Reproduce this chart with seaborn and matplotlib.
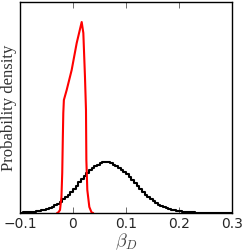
import numpy as np
import pandas as pd
import matplotlib
matplotlib.use("Agg")
import matplotlib.pyplot as plt
import seaborn as sns

# black histogram: bin edges and heights (arbitrary density units)
bin_edges = np.arange(-0.1, 0.3001, 0.005)
black_heights = [
    0.35, 0.45, 0.65, 0.85, 1.1, 1.4, 1.75, 2.1, 2.6, 3.2,
    4.0, 4.9, 6.1, 7.6, 9.4, 11.4, 13.6, 15.9, 18.3, 20.8,
    23.6, 27.0, 30.6, 34.0, 37.3, 40.4, 43.0, 45.1, 46.8, 48.3,
    49.6, 50.6, 51.2, 51.1, 50.0, 48.4, 46.6, 44.8, 43.0, 41.0,
    38.6, 35.9, 33.0, 30.0, 27.0, 24.0, 21.1, 18.4, 15.9, 13.6,
    11.6, 9.9, 8.4, 7.1, 6.0, 5.0, 4.2, 3.4, 2.8, 2.2,
    1.8, 1.4, 1.1, 0.85, 0.65, 0.5, 0.38, 0.28, 0.2, 0.15,
    0.11, 0.08, 0.05, 0.04, 0.03, 0.02, 0.01, 0.01, 0.0, 0.0,
]
bin_centres = (bin_edges[:-1] + bin_edges[1:]) / 2

# red curve
red_x = [-0.030, -0.0277, -0.0245, -0.0218, -0.0203, -0.0192, -0.0183, -0.0172,
         -0.0119, -0.0025, 0.007, 0.0164, 0.0195, 0.0226, 0.0245, 0.0252,
         0.027, 0.0308, 0.035, 0.038]
red_y = [0, 0.5, 3, 16, 40, 75, 100, 113,
         123, 143, 170, 191, 180, 136, 103, 53,
         23, 6, 0.5, 0]

hist_df = pd.DataFrame({"beta": bin_centres, "h": black_heights})
red_df = pd.DataFrame({"beta": red_x, "dens": red_y})

sns.set_style("ticks")
plt.rcParams["mathtext.fontset"] = "cm"

fig = plt.figure(figsize=(2.45, 2.52), dpi=100)
ax = fig.add_axes([0.0816, 0.155, 0.8654, 0.837])

sns.histplot(data=hist_df, x="beta", weights="h", bins=list(bin_edges),
             element="step", fill=False, color="black", linewidth=1.5, ax=ax)
sns.lineplot(data=red_df, x="beta", y="dens", color="red", linewidth=1.5,
             estimator=None, sort=False, ax=ax)

ax.set_xlim(-0.1, 0.3)
ax.set_ylim(0, 211)
ax.set_xticks([-0.1, 0, 0.1, 0.2, 0.3])
ax.set_xticklabels(["\u22120.1", "0", "0.1", "0.2", "0.3"])
ax.set_yticks([])
ax.tick_params(axis="x", direction="in", top=True, length=4, width=0.6,
               labelsize=10, pad=3, color="#555555")
for s in ax.spines.values():
    s.set_linewidth(1.0)
    s.set_color("black")

ax.set_xlabel(r"$\beta_D$", fontsize=13, labelpad=0, color="#444444")
ax.set_ylabel("Probability density", fontsize=12, family="Liberation Serif",
              labelpad=2, color="#333333")

fig.savefig("out.png", dpi=100)
